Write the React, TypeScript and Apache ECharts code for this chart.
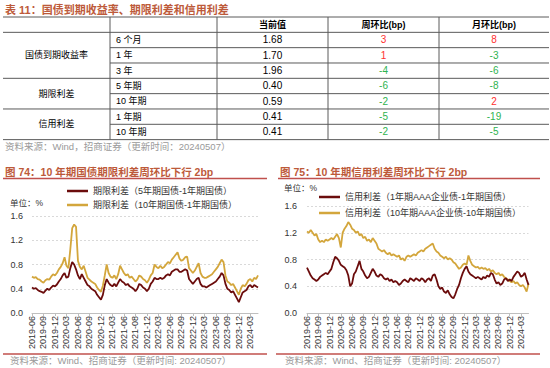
import React, { useEffect, useRef } from "react";
import * as echarts from "echarts";

const FONT = "'Liberation Sans', Arial, 'Noto Sans CJK SC', sans-serif";
const TITLE_COLOR = "#bd5a3a";
const RULE_COLOR = "#c0504d";
const DARK_RED = "#6b0c0c";
const GOLD = "#d3a63c";
const UP = "#ff3030";
const DOWN = "#2fb34f";

// ---------- table ----------
const tableTitle = "表 11：国债到期收益率、期限利差和信用利差";
const tableHeaders = ["当前值", "周环比(bp)", "月环比(bp)"];
const tableGroups = ["国债到期收益率", "期限利差", "信用利差"];
const groupRowSpans = [3, 2, 2];
const tableTerms = ["6 个月", "1 年", "3 年", "5 年期", "10 年期", "1 年期", "10 年期"];
const currentValues = [1.68, 1.7, 1.96, 0.4, 0.59, 0.41, 0.41];
const weeklyChange = [3, 1, -4, -6, -2, -5, -2];
const monthlyChange = [8, -3, -6, -8, 2, -19, -5];
const tableSource = "资料来源：Wind，招商证券（更新时间：20240507）";

// ---------- charts ----------
const chart74Title = "图 74：10 年期国债期限利差周环比下行 2bp";
const chart75Title = "图 75：10 年期信用利差周环比下行 2bp";
const chartSource = "资料来源：Wind、招商证券（更新时间: 20240507）";
const unitLabel = "单位：%";

const name5Y = "期限利差（5年期国债-1年期国债）";
const name10Y = "期限利差（10年期国债-1年期国债）";
const name1YCredit = "信用利差（1年期AAA企业债-1年期国债）";
const name10YCredit = "信用利差（10年期AAA企业债-10年期国债）";

const leftTickLabels = [
  "2019-06", "2019-09", "2019-12", "2020-03", "2020-06", "2020-09", "2020-12",
  "2021-03", "2021-06", "2021-08", "2021-12", "2022-03", "2022-06", "2022-09",
  "2022-12", "2023-03", "2023-06", "2023-09", "2023-12", "2024-03",
];
const rightTickLabels = [
  "2019-06", "2019-09", "2019-12", "2020-03", "2020-06", "2020-09", "2020-12",
  "2021-03", "2021-06", "2021-09", "2021-12", "2022-03", "2022-06", "2022-09",
  "2022-12", "2023-03", "2023-06", "2023-09", "2023-12", "2024-03",
];

// semi-monthly observations, 2019-06 .. 2024-05
const termSpread5Y = [
  0.42, 0.40, 0.41, 0.38, 0.36, 0.35, 0.33, 0.37, 0.40, 0.38,
  0.42, 0.45, 0.44, 0.47, 0.52, 0.56, 0.62, 0.66, 0.58, 0.60,
  0.74, 0.84, 0.80, 0.72, 0.62, 0.56, 0.64, 0.58, 0.52, 0.46,
  0.44, 0.40, 0.38, 0.36, 0.30, 0.26, 0.22, 0.30, 0.46, 0.56,
  0.50, 0.46, 0.44, 0.48, 0.44, 0.50, 0.56, 0.52, 0.50, 0.46,
  0.48, 0.44, 0.42, 0.40, 0.36, 0.40, 0.48, 0.46, 0.42, 0.40,
  0.36, 0.40, 0.48, 0.52, 0.58, 0.56, 0.56, 0.58, 0.56, 0.58,
  0.62, 0.64, 0.62, 0.68, 0.70, 0.72, 0.72, 0.68, 0.68, 0.70,
  0.72, 0.70, 0.56, 0.52, 0.48, 0.52, 0.56, 0.58, 0.48, 0.44,
  0.44, 0.42, 0.44, 0.46, 0.48, 0.50, 0.52, 0.56, 0.60, 0.66,
  0.62, 0.48, 0.40, 0.38, 0.34, 0.36, 0.30, 0.24, 0.18, 0.26,
  0.34, 0.36, 0.38, 0.44, 0.46, 0.42, 0.46, 0.44, 0.42,
];
const termSpread10Y = [
  0.60, 0.58, 0.59, 0.56, 0.55, 0.52, 0.50, 0.54, 0.56, 0.55,
  0.60, 0.64, 0.62, 0.66, 0.72, 0.76, 0.82, 0.92, 0.78, 0.74,
  1.05, 1.40, 1.46, 1.42, 0.86, 0.76, 0.72, 0.78, 0.68, 0.58,
  0.55, 0.52, 0.50, 0.48, 0.42, 0.38, 0.35, 0.45, 0.62, 0.80,
  0.66, 0.60, 0.58, 0.62, 0.56, 0.64, 0.78, 0.72, 0.66, 0.62,
  0.64, 0.58, 0.60, 0.56, 0.52, 0.55, 0.62, 0.60, 0.56, 0.54,
  0.50, 0.55, 0.62, 0.66, 0.80, 0.76, 0.74, 0.78, 0.74, 0.76,
  0.80, 0.84, 0.82, 0.88, 0.92, 0.96, 1.00, 0.90, 0.86, 0.88,
  0.92, 0.93, 0.74, 0.70, 0.66, 0.70, 0.76, 0.82, 0.66, 0.60,
  0.58, 0.58, 0.60, 0.62, 0.64, 0.68, 0.72, 0.76, 0.82, 0.88,
  0.84, 0.62, 0.52, 0.50, 0.46, 0.48, 0.42, 0.36, 0.30, 0.40,
  0.46, 0.44, 0.48, 0.54, 0.56, 0.52, 0.58, 0.56, 0.62,
];
const creditSpread1Y = [
  0.68, 0.62, 0.56, 0.52, 0.50, 0.48, 0.50, 0.54, 0.56, 0.58,
  0.60, 0.58, 0.62, 0.66, 0.76, 0.84, 0.82, 0.78, 0.72, 0.70,
  0.68, 0.64, 0.56, 0.40, 0.44, 0.58, 0.62, 0.70, 0.78, 0.66,
  0.62, 0.56, 0.52, 0.54, 0.60, 0.66, 0.62, 0.56, 0.54, 0.58,
  0.56, 0.52, 0.50, 0.52, 0.48, 0.50, 0.46, 0.48, 0.46, 0.42,
  0.44, 0.48, 0.50, 0.48, 0.46, 0.52, 0.50, 0.48, 0.52, 0.50,
  0.48, 0.52, 0.50, 0.46, 0.50, 0.52, 0.48, 0.56, 0.58, 0.50,
  0.40, 0.36, 0.38, 0.32, 0.30, 0.34, 0.28, 0.24, 0.22, 0.28,
  0.36, 0.42, 0.52, 0.60, 0.66, 0.70, 0.62, 0.58, 0.56, 0.54,
  0.52, 0.54, 0.52, 0.50, 0.54, 0.52, 0.56, 0.54, 0.60, 0.58,
  0.50, 0.44, 0.46, 0.42, 0.44, 0.50, 0.52, 0.48, 0.50, 0.48,
  0.54, 0.58, 0.62, 0.60, 0.54, 0.56, 0.60, 0.50, 0.42,
];
const creditSpread10Y = [
  1.22, 1.20, 1.24, 1.20, 1.16, 1.18, 1.10, 1.06, 1.08, 1.06,
  1.10, 1.08, 1.10, 1.12, 1.10, 1.14, 1.18, 1.12, 0.98, 1.20,
  1.26, 1.30, 1.36, 1.32, 1.26, 1.24, 1.20, 1.22, 1.16, 1.18,
  1.12, 1.14, 1.08, 1.10, 1.06, 1.12, 1.08, 1.04, 0.96, 0.94,
  0.92, 0.94, 0.90, 0.88, 0.90, 0.86, 0.88, 0.86, 0.84, 0.86,
  0.80, 0.82, 0.78, 0.84, 0.86, 0.84, 0.86, 0.88, 0.86, 0.90,
  0.92, 0.94, 0.92, 0.96, 0.98, 1.00, 1.02, 1.04, 0.96, 0.92,
  0.90, 0.86, 0.84, 0.82, 0.84, 0.80, 0.82, 0.80, 0.76, 0.74,
  0.70, 0.66, 0.68, 0.72, 0.74, 0.72, 0.86, 0.78, 0.72, 0.70,
  0.68, 0.69, 0.66, 0.68, 0.66, 0.67, 0.64, 0.66, 0.62, 0.64,
  0.60, 0.58, 0.60, 0.56, 0.58, 0.54, 0.52, 0.50, 0.48, 0.46,
  0.48, 0.44, 0.46, 0.42, 0.40, 0.42, 0.38, 0.32, 0.44,
];

const dates: string[] = termSpread5Y.map((_, i) => {
  const m = 5 + Math.floor(i / 2);
  const y = 2019 + Math.floor(m / 12);
  const mm = String((m % 12) + 1).padStart(2, "0");
  return `${y}-${mm}-${i % 2 === 0 ? "01" : "16"}`;
});

function buildGraphic() {
  const els: any[] = [];
  const txt = (x: number, y: number, text: string, o: any = {}) =>
    els.push({
      type: "text",
      x,
      y,
      silent: true,
      style: {
        text,
        fill: o.fill || "#000",
        fontSize: o.fontSize || 9,
        fontWeight: o.fontWeight || "normal",
        fontFamily: FONT,
        textAlign: o.align || "left",
        textVerticalAlign: "middle",
      },
    });
  const line = (x1: number, y1: number, x2: number, y2: number, stroke: string, w: number) =>
    els.push({ type: "line", silent: true, shape: { x1, y1, x2, y2 }, style: { stroke, lineWidth: w } });

  // table
  txt(5, 10, tableTitle, { fill: TITLE_COLOR, fontSize: 11, fontWeight: "bold" });
  const colX = [3, 110, 217, 328, 439, 549];
  const top = 17;
  const rh = 15.33;
  const fullRows = [0, 1, 4, 6, 8];
  for (let k = 0; k <= 8; k++) {
    const y = top + k * rh;
    line(fullRows.includes(k) ? colX[0] : colX[1], y, colX[5], y, "#5a5a5a", 1);
  }
  for (let c = 1; c <= 4; c++) line(colX[c], top, colX[c], top + 8 * rh, "#5a5a5a", 1);
  tableHeaders.forEach((h, j) =>
    txt((colX[j + 2] + colX[j + 3]) / 2, top + rh / 2, h, { align: "center", fontWeight: "bold" })
  );
  let r = 0;
  tableGroups.forEach((g, gi) => {
    const span = groupRowSpans[gi];
    txt((colX[0] + colX[1]) / 2, top + rh * (1 + r + span / 2), g, { align: "center" });
    r += span;
  });
  tableTerms.forEach((t, i) => {
    const cy = top + rh * (i + 1.5);
    txt(colX[1] + 6, cy, t);
    txt((colX[2] + colX[3]) / 2, cy, currentValues[i].toFixed(2), { align: "center", fontSize: 10 });
    txt((colX[3] + colX[4]) / 2, cy, String(weeklyChange[i]), {
      align: "center",
      fontSize: 10,
      fill: weeklyChange[i] >= 0 ? UP : DOWN,
    });
    txt((colX[4] + colX[5]) / 2, cy, String(monthlyChange[i]), {
      align: "center",
      fontSize: 10,
      fill: monthlyChange[i] >= 0 ? UP : DOWN,
    });
  });
  txt(5, 146, tableSource, { fill: "#9a9a9a", fontSize: 9.5 });

  // chart titles and rules
  txt(5, 172, chart74Title, { fill: TITLE_COLOR, fontSize: 10.5, fontWeight: "bold" });
  txt(280, 172, chart75Title, { fill: TITLE_COLOR, fontSize: 10.5, fontWeight: "bold" });
  line(3, 178.5, 267, 178.5, RULE_COLOR, 1.5);
  line(278, 178.5, 540, 178.5, RULE_COLOR, 1.5);
  line(3, 354, 267, 354, RULE_COLOR, 1.5);
  line(276, 354, 540, 354, RULE_COLOR, 1.5);
  txt(10, 360, chartSource, { fill: "#9a9a9a", fontSize: 9.5 });
  txt(285, 360, chartSource, { fill: "#9a9a9a", fontSize: 9.5 });
  txt(10, 203, unitLabel, { fill: "#333", fontSize: 8.5 });
  txt(284, 188, unitLabel, { fill: "#333", fontSize: 8.5 });
  return els;
}

function legendItem(name: string, left: number, top: number) {
  return {
    data: [name],
    left,
    top,
    padding: 0,
    icon: "rect",
    itemWidth: 21,
    itemHeight: 2.5,
    selectedMode: false,
    textStyle: { fontSize: 9, color: "#333", fontFamily: FONT },
  };
}

function xAxisFor(gridIndex: number, ticks: string[]) {
  return {
    type: "category",
    gridIndex,
    data: dates,
    boundaryGap: false,
    axisLine: { lineStyle: { color: "#bfbfbf" } },
    axisTick: { show: true, interval: (i: number) => i % 6 === 0, length: 3, lineStyle: { color: "#bfbfbf" } },
    axisLabel: {
      interval: (i: number) => i % 6 === 0,
      rotate: 90,
      fontSize: 9,
      color: "#333",
      margin: 3,
      fontFamily: FONT,
      formatter: (_v: string, i: number) => ticks[Math.round(i / 6)] || "",
    },
    splitLine: { show: false },
  };
}

function yAxisFor(gridIndex: number, margin: number) {
  return {
    type: "value",
    gridIndex,
    min: 0,
    max: 1.6,
    interval: 0.4,
    axisLine: { show: false },
    axisTick: { show: false },
    axisLabel: {
      fontSize: 9,
      color: "#333",
      margin,
      fontFamily: FONT,
      formatter: (v: number) => v.toFixed(1),
    },
    splitLine: { lineStyle: { color: "#d9d9d9", type: [2, 2] } },
  };
}

function lineSeries(name: string, data: number[], color: string, idx: number, z: number) {
  return {
    name,
    type: "line",
    xAxisIndex: idx,
    yAxisIndex: idx,
    data,
    showSymbol: false,
    symbol: "none",
    z,
    lineStyle: { color, width: 1.8 },
    itemStyle: { color },
  };
}

export default function App() {
  const ref = useRef<HTMLDivElement>(null);
  useEffect(() => {
    if (!ref.current) return;
    const chart = echarts.init(ref.current, null, { renderer: "svg" });
    chart.setOption({
      animation: false,
      backgroundColor: "#fff",
      textStyle: { fontFamily: FONT },
      grid: [
        { left: 32, top: 216, width: 226, height: 97 },
        { left: 307, top: 206, width: 221.5, height: 107 },
      ],
      legend: [
        legendItem(name5Y, 67, 186.5),
        legendItem(name10Y, 67, 200.5),
        legendItem(name1YCredit, 319, 192.5),
        legendItem(name10YCredit, 319, 208.5),
      ],
      xAxis: [xAxisFor(0, leftTickLabels), xAxisFor(1, rightTickLabels)],
      yAxis: [yAxisFor(0, 9), yAxisFor(1, 10)],
      series: [
        lineSeries(name5Y, termSpread5Y, DARK_RED, 0, 2),
        lineSeries(name10Y, termSpread10Y, GOLD, 0, 3),
        lineSeries(name1YCredit, creditSpread1Y, DARK_RED, 1, 3),
        lineSeries(name10YCredit, creditSpread10Y, GOLD, 1, 2),
      ],
      graphic: buildGraphic(),
    });
    return () => chart.dispose();
  }, []);
  return (
    <div
      ref={ref}
      style={{ position: "absolute", left: 0, top: 0, width: 550, height: 368, background: "#fff" }}
    />
  );
}
